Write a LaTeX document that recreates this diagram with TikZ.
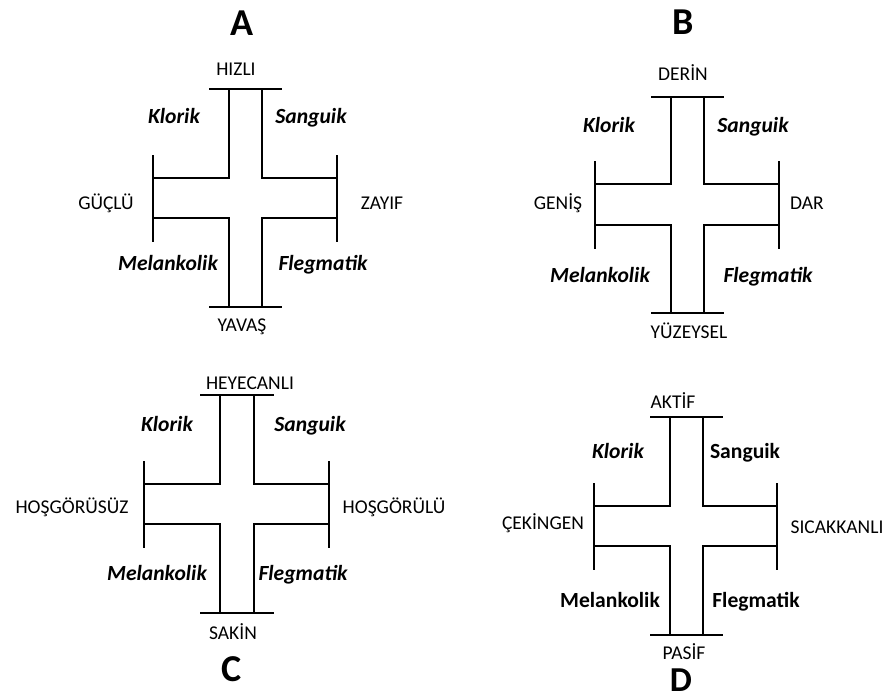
\documentclass[tikz,border=0pt]{standalone}
\usepackage{fontspec}
\setmainfont{Carlito}
\tikzset{
  lbl/.style={inner sep=0pt, anchor=base, font=\fontsize{19.5}{22}\selectfont},
  temp/.style={lbl, font=\fontsize{21.6}{24}\selectfont\bfseries\itshape},
  tempup/.style={lbl, font=\fontsize{21.6}{24}\selectfont\bfseries},
  ttl/.style={inner sep=0pt, anchor=base, font=\fontsize{38}{40}\selectfont\bfseries},
  crossline/.style={line width=1.4pt, line cap=butt, line join=miter}
}
% #1 xa  #2 xb  #3 xL  #4 xR  #5 yT  #6 y1  #7 y2  #8 yB
\newcommand\pcross[8]{%
  \draw[crossline] (#1,#5) -- (#1,#6) -- (#3,#6);
  \draw[crossline] (#2,#5) -- (#2,#6) -- (#4,#6);
  \draw[crossline] (#3,#7) -- (#1,#7) -- (#1,#8);
  \draw[crossline] (#4,#7) -- (#2,#7) -- (#2,#8);
  \draw[crossline] (#1-20,#5) -- (#2+20,#5);
  \draw[crossline] (#1-20,#8) -- (#2+20,#8);
  \draw[crossline] (#3,#6-23) -- (#3,#7+24);
  \draw[crossline] (#4,#6-23) -- (#4,#7+24);
}
\begin{document}
\begin{tikzpicture}[x=1pt,y=-1pt]
\useasboundingbox (0,0) rectangle (891,698);
% ---------- A ----------
\pcross{229}{262}{153}{337}{89}{178}{218}{307}
\node[ttl] (tA) at (242,36) {A};
\node[lbl] (a1) at (236,76) {HIZLI};
\node[temp] (a2) at (174,124) {Klorik};
\node[temp] (a3) at (311,124) {Sanguik};
\node[lbl] (a4) at (106,209) {GÜÇLÜ};
\node[lbl] (a5) at (382,209) {ZAYIF};
\node[temp] (a6) at (168,270) {Melankolik};
\node[temp] (a7) at (323,270) {Flegmatik};
\node[lbl] (a8) at (242,331) {YAVAŞ};
% ---------- B ----------
\pcross{671}{704}{595}{779}{97}{184}{225}{313}
\node[ttl] (tB) at (683,35) {B};
\node[lbl] (b1) at (683,81) {DERİN};
\node[temp] (b2) at (609,132) {Klorik};
\node[temp] (b3) at (753,132) {Sanguik};
\node[lbl] (b4) at (558,209) {GENİŞ};
\node[lbl] (b5) at (807,209) {DAR};
\node[temp] (b6) at (600,282) {Melankolik};
\node[temp] (b7) at (768,282) {Flegmatik};
\node[lbl] (b8) at (689,338) {YÜZEYSEL};
% ---------- C ----------
\pcross{220}{254}{144}{329}{395}{484}{524}{613}
\node[lbl] (c1) at (250,389) {HEYECANLI};
\node[temp] (c2) at (167,431) {Klorik};
\node[temp] (c3) at (310,431) {Sanguik};
\node[lbl] (c4) at (72,513) {HOŞGÖRÜSÜZ};
\node[lbl] (c5) at (394,513) {HOŞGÖRÜLÜ};
\node[temp] (c6) at (157,580) {Melankolik};
\node[temp] (c7) at (303,580) {Flegmatik};
\node[lbl] (c8) at (233,639) {SAKİN};
\node[ttl] (tC) at (232,681) {C};
% ---------- D ----------
\pcross{670}{703}{594}{777}{417}{506}{546}{635}
\node[lbl] (d1) at (673,408) {AKTİF};
\node[temp] (d2) at (618,458) {Klorik};
\node[tempup] (d3) at (745,458) {Sanguik};
\node[lbl] (d4) at (543,529) {ÇEKİNGEN};
\node[lbl] (d5) at (837,533) {SICAKKANLI};
\node[tempup] (d6) at (610,607) {Melankolik};
\node[tempup] (d7) at (756,607) {Flegmatik};
\node[lbl] (d8) at (684,659) {PASİF};
\node[ttl, font=\fontsize{35}{37}\selectfont\bfseries] (tD) at (681,691) {D};
\end{tikzpicture}
\end{document}
